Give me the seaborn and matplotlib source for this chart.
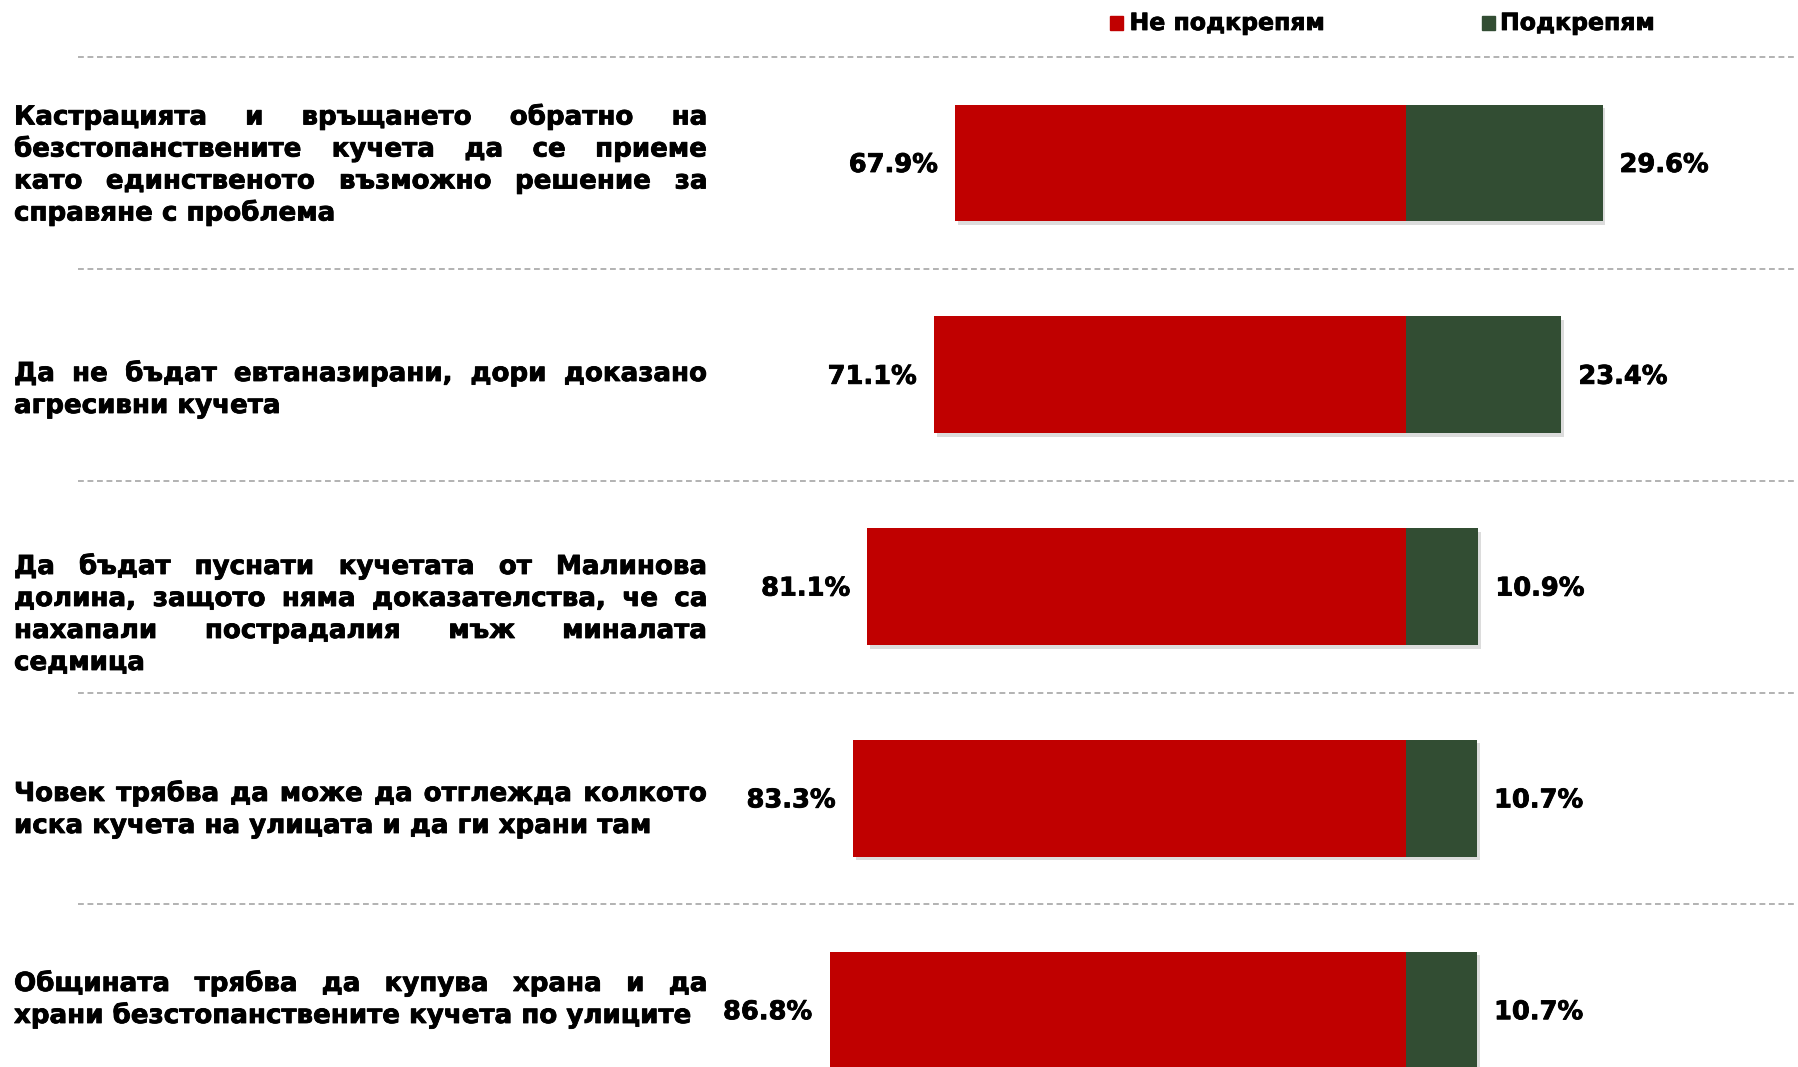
import numpy as np
import pandas as pd
import matplotlib
matplotlib.use("Agg")
import matplotlib.pyplot as plt
import matplotlib.patheffects as pe
from matplotlib.patches import Rectangle, Circle
import seaborn as sns

# ---------------- data ----------------
categories = [
    "Кастрацията и връщането обратно на безстопанствените кучета да се приеме като единственото възможно решение за справяне с проблема",
    "Да не бъдат евтаназирани, дори доказано агресивни кучета",
    "Да бъдат пуснати кучетата от Малинова долина, защото няма доказателства, че са нахапали пострадалия мъж миналата седмица",
    "Човек трябва да може да отглежда колкото иска кучета на улицата и да ги храни там",
    "Общината трябва да купува храна и да храни безстопанствените кучета по улиците",
]
label_lines = [
    ["Кастрацията и връщането обратно на",
     "безстопанствените кучета да се приеме",
     "като единственото възможно решение за",
     "справяне с проблема"],
    ["Да не бъдат евтаназирани, дори доказано",
     "агресивни кучета"],
    ["Да бъдат пуснати кучетата от Малинова",
     "долина, защото няма доказателства, че са",
     "нахапали пострадалия мъж миналата",
     "седмица"],
    ["Човек трябва да може да отглежда колкото",
     "иска кучета на улицата и да ги храни там"],
    ["Общината трябва да купува храна и да",
     "храни безстопанствените кучета по улиците"],
]
not_support = [67.9, 71.1, 81.1, 83.3, 86.8]
support = [29.6, 23.4, 10.9, 10.7, 10.7]
series_names = ["Не подкрепям", "Подкрепям"]

RED = "#C00000"
GREEN = "#324D33"
GRID = "#A6A6A6"

W, H = 1798, 1067
DPI = 100
FS_LAB = 18.8
FS_VAL = 18.5
FS_LEG = 17

sns.set_theme(style="white")
plt.rcParams["font.family"] = ["DejaVu Sans"]

fig = plt.figure(figsize=(W / DPI, H / DPI), dpi=DPI)
ax = fig.add_axes([0, 0, 1, 1])

df = pd.DataFrame({"cat": categories,
                   "neg": -np.array(not_support),
                   "pos": np.array(support)})

shadow = [pe.SimplePatchShadow(offset=(2, -2.5), shadow_rgbFace="#8c8c8c", alpha=0.3), pe.Normal()]
heavy = [pe.withStroke(linewidth=0.6, foreground="black")]

sns.barplot(data=df, y="cat", x="neg", orient="h", color=RED, saturation=1,
            width=0.552, ax=ax, linewidth=0)
sns.barplot(data=df, y="cat", x="pos", orient="h", color=GREEN, saturation=1,
            width=0.552, ax=ax, linewidth=0)
for p in ax.patches:
    p.set_path_effects(shadow)

# scale: center at 1406 px, 6.64 px per %
center_px, ppp = 1406.0, 6.64
ax.set_xlim(-center_px / ppp, (W - center_px) / ppp)
row0, rowh = 163.0, 211.8
ax.set_ylim((H - row0) / rowh, -row0 / rowh)
ax.axis("off")

# dashed separators
for y in np.arange(-0.5, len(categories) - 0.4, 1.0):
    ax.axhline(y, xmin=78 / W, xmax=1795 / W, color=GRID, lw=1.2,
               linestyle=(0, (3.5, 2.2)), zorder=0)

# value labels
for i, (r, g) in enumerate(zip(not_support, support)):
    ax.annotate(f"{r:.1f}%", xy=(-r, i), xytext=(-17, -2), textcoords="offset pixels",
                ha="right", va="center", fontsize=FS_VAL, fontweight="bold", color="black",
                path_effects=heavy)
    ax.annotate(f"{g:.1f}%", xy=(g, i), xytext=(17, -2), textcoords="offset pixels",
                ha="left", va="center", fontsize=FS_VAL, fontweight="bold", color="black",
                path_effects=heavy)

# justified category labels (figure pixel coordinates)
def fx(px):
    return px / W

def fy(py):
    return 1 - py / H

renderer = fig.canvas.get_renderer()
LEFT, RIGHT = 14.0, 707.5
first_baselines = [124.5, 381.0, 574.0, 801.0, 991.0]
LINE = 32.0

for lines, b0 in zip(label_lines, first_baselines):
    for k, line in enumerate(lines):
        yb = b0 + k * LINE
        if k == len(lines) - 1:
            fig.text(fx(LEFT), fy(yb), line, ha="left", va="baseline",
                     fontsize=FS_LAB, fontweight="bold", color="black",
                     path_effects=heavy)
            continue
        words = line.split()
        texts = [fig.text(0, fy(yb), w_, ha="left", va="baseline",
                          fontsize=FS_LAB, fontweight="bold", color="black",
                          path_effects=heavy) for w_ in words]
        widths = [t.get_window_extent(renderer).width for t in texts]
        gap = (RIGHT - LEFT - sum(widths)) / (len(words) - 1)
        x = LEFT
        for t, wd in zip(texts, widths):
            t.set_x(fx(x))
            x += wd + gap

# legend (manual)
leg_y = 23.0
for sq_x, txt_x, col, name in [(1110, 1129.5, RED, series_names[0]),
                               (1481.5, 1500, GREEN, series_names[1])]:
    fig.patches.append(Rectangle((fx(sq_x), fy(leg_y + 6.5)), 13 / W, 13 / H,
                                 transform=fig.transFigure, color=col, figure=fig))
    fig.text(fx(txt_x), fy(leg_y), name, ha="left", va="center",
             fontsize=FS_LEG, fontweight="bold", color="black", path_effects=heavy)

# small logo fragment in the bottom-left corner
fig.patches.append(Circle((fx(-28), fy(1100)), 45 / W, transform=fig.transFigure,
                          color="#2E5E35", figure=fig))

fig.savefig("out.png", dpi=DPI)
